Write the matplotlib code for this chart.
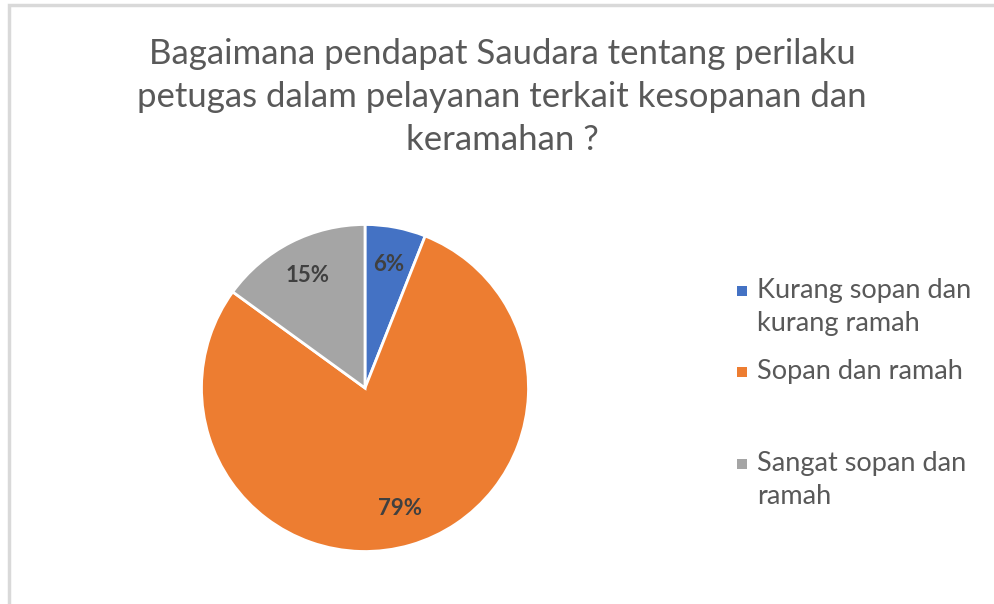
import matplotlib
matplotlib.use("Agg")
import matplotlib.pyplot as plt
from matplotlib.patches import Rectangle

# data
labels = ["Kurang sopan dan\nkurang ramah", "Sopan dan ramah", "Sangat sopan dan\nramah"]
values = [6, 79, 15]
colors = ["#4472C4", "#ED7D31", "#A5A5A5"]
title = "Bagaimana pendapat Saudara tentang perilaku\npetugas dalam pelayanan terkait kesopanan dan\nkeramahan ?"

plt.rcParams['font.family'] = ['Lato', 'DejaVu Sans']

fig = plt.figure(figsize=(9.94, 6.04), dpi=100)

# light frame round the chart area
fig.patches.append(Rectangle((9 / 994, -0.05), 1.2, 1 - 5 / 604 + 0.05, transform=fig.transFigure,
                             fill=False, edgecolor="#d9d9d9", linewidth=2.5))

fig.text(0.505, 1 - 97 / 604, title, ha="center", va="center", fontsize=25,
         color="#595959", linespacing=1.42)

cx, cy, r = 365 / 994, 1 - 388 / 604, 163.5
w, h = r / 994, r / 604
ax = fig.add_axes([cx - w, cy - h, 2 * w, 2 * h])
wedges, texts, autotexts = ax.pie(values, colors=colors, startangle=90, counterclock=False,
                                  autopct="%1.0f%%", pctdistance=0.77, radius=1,
                                  wedgeprops=dict(edgecolor="white", linewidth=2))
for t in autotexts:
    t.set_color("#404040")
    t.set_fontsize(16)
    t.set_fontweight("bold")
ax.set_xlim(-1, 1)
ax.set_ylim(-1, 1)
ax.set_aspect("auto")
ax.axis("off")

# legend, built by hand to keep Excel-like spacing
legend_y = [291, 372, 464]
for lab, col, y in zip(labels, colors, legend_y):
    fig.patches.append(Rectangle((737 / 994, 1 - (y + 5) / 604), 10 / 994, 10 / 604,
                                 transform=fig.transFigure, facecolor=col, edgecolor="none"))
    fig.text(757 / 994, 1 - (y - 13) / 604, lab, ha="left", va="top", fontsize=19.5,
             color="#595959", linespacing=1.38)

fig.savefig("out.png", dpi=100, facecolor="white")
